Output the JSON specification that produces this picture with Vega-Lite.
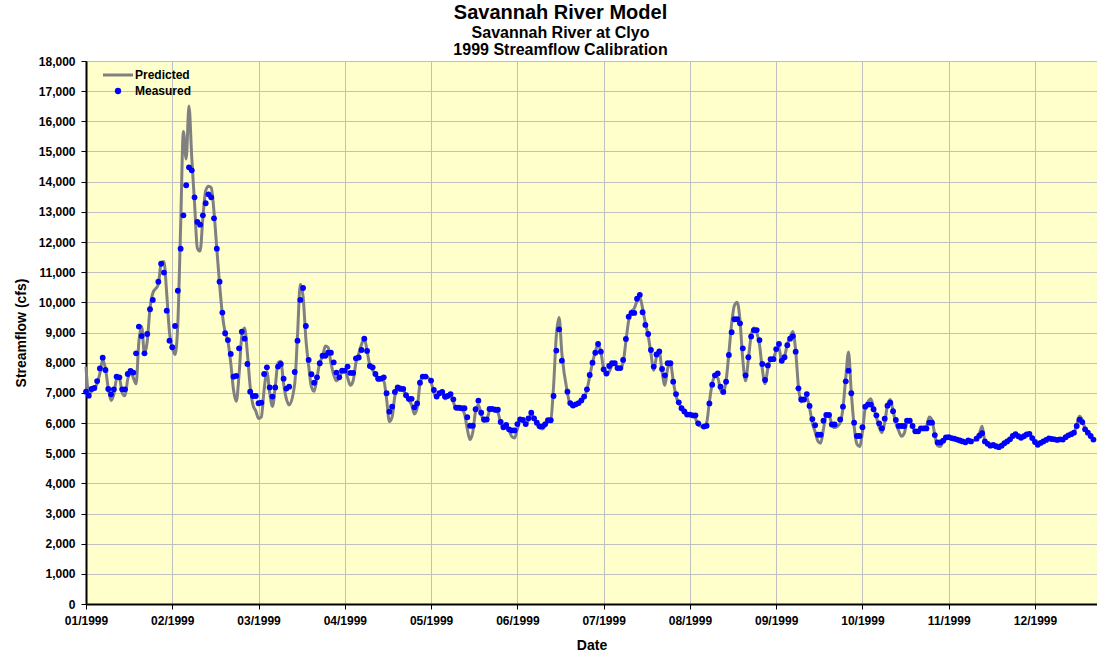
{
"$schema":"https://vega.github.io/schema/vega-lite/v6.json",
"width":1011,"height":543,
"autosize":{"type":"none"},
"padding":{"left":86,"top":61,"right":0,"bottom":53},
"background":"white",
"title":{"text":"Savannah River Model","subtitle":["Savannah River at Clyo","1999 Streamflow Calibration"],"anchor":"middle","frame":"group","dx":-31,"offset":-3,"font":"Liberation Sans","fontSize":20,"fontWeight":"bold","color":"#000000","subtitleFont":"Liberation Sans","subtitleFontSize":16,"subtitleFontWeight":"bold","subtitleColor":"#000000","subtitlePadding":2,"subtitleLineHeight":17},
"config":{"font":"Liberation Sans","view":{"fill":"#FFFFCC","stroke":"#000000","strokeWidth":1},
"axis":{"labelFont":"Liberation Sans","labelFontSize":12,"labelFontWeight":"bold","labelColor":"#000000","titleFont":"Liberation Sans","titleFontSize":14,"titleFontWeight":"bold","titleColor":"#000000","domainColor":"#000000","domainWidth":2,"tickColor":"#000000","tickWidth":1,"gridColor":"#C0C0C0","gridWidth":1,"grid":true}},
"data":{"values":[
{"d":"1999-01-01","p":7870,"m":7040},{"d":"1999-01-02","p":6950,"m":6905},{"d":"1999-01-03","p":7050,"m":7127},{"d":"1999-01-04","p":7150,"m":7160},{"d":"1999-01-05","p":7300,"m":7390},{"d":"1999-01-06","p":7650,"m":7810},{"d":"1999-01-07","p":8100,"m":8165},{"d":"1999-01-08","p":7800,"m":7757},{"d":"1999-01-09","p":7150,"m":7127},{"d":"1999-01-10","p":6750,"m":6950},{"d":"1999-01-11","p":6950,"m":7115},{"d":"1999-01-12","p":7450,"m":7535},{"d":"1999-01-13","p":7500,"m":7515},{"d":"1999-01-14","p":7000,"m":7115},{"d":"1999-01-15","p":6900,"m":7115},{"d":"1999-01-16","p":7450,"m":7625},{"d":"1999-01-17","p":7700,"m":7725},{"d":"1999-01-18","p":7500,"m":7670},{"d":"1999-01-19","p":7300,"m":8310},{"d":"1999-01-20","p":8700,"m":9195},{"d":"1999-01-21","p":9200,"m":8885},{"d":"1999-01-22","p":8300,"m":8310},{"d":"1999-01-23","p":8700,"m":8950},{"d":"1999-01-24","p":9800,"m":9770},{"d":"1999-01-25","p":10300,"m":10080},
{"d":"1999-01-27","p":10600,"m":10685},{"d":"1999-01-28","p":11300,"m":11280},{"d":"1999-01-29","p":11350,"m":10985},{"d":"1999-01-30","p":10300,"m":9725},{"d":"1999-01-31","p":9000,"m":8730},{"d":"1999-02-01","p":8500,"m":8510},{"d":"1999-02-02","p":8270,"m":9215},{"d":"1999-02-03","p":9300,"m":10385},{"d":"1999-02-04","p":12500,"m":11780},{"d":"1999-02-05","p":15660,"m":12885},{"d":"1999-02-06","p":14750,"m":13880},{"d":"1999-02-07","p":16510,"m":14475},{"d":"1999-02-08","p":14800,"m":14375},{"d":"1999-02-09","p":13300,"m":13480},{"d":"1999-02-10","p":11800,"m":12665},{"d":"1999-02-11","p":11700,"m":12575},{"d":"1999-02-12","p":12800,"m":12885},{"d":"1999-02-13","p":13700,"m":13285},{"d":"1999-02-14","p":13850,"m":13580},{"d":"1999-02-15","p":13800,"m":13480},{"d":"1999-02-16","p":13000,"m":12785},{"d":"1999-02-17","p":11780,"m":11780},{"d":"1999-02-18","p":10600,"m":10685},{"d":"1999-02-19","p":9600,"m":9660},{"d":"1999-02-20","p":9000,"m":8975},{"d":"1999-02-21","p":8700,"m":8750},{"d":"1999-02-22","p":8000,"m":8290},{"d":"1999-02-23","p":7100,"m":7535},{"d":"1999-02-24","p":6720,"m":7560},{"d":"1999-02-25","p":7600,"m":8475},{"d":"1999-02-26","p":8900,"m":9025},{"d":"1999-02-27","p":9150,"m":8795},{"d":"1999-02-28","p":8300,"m":7955},{"d":"1999-03-01","p":7200,"m":7040},{"d":"1999-03-02","p":6600,"m":6895},{"d":"1999-03-03","p":6400,"m":6895},{"d":"1999-03-04","p":6150,"m":6655},{"d":"1999-03-05","p":6200,"m":6675},{"d":"1999-03-06","p":7100,"m":7625},{"d":"1999-03-07","p":7700,"m":7845},{"d":"1999-03-08","p":7000,"m":7180},{"d":"1999-03-09","p":6550,"m":6875},{"d":"1999-03-10","p":7200,"m":7180},{"d":"1999-03-11","p":8000,"m":7870},{"d":"1999-03-12","p":8050,"m":7955},{"d":"1999-03-13","p":7300,"m":7470},{"d":"1999-03-14","p":6800,"m":7140},{"d":"1999-03-15","p":6600,"m":7205},
{"d":"1999-03-17","p":7300,"m":7690},{"d":"1999-03-18","p":8900,"m":8730},{"d":"1999-03-19","p":10600,"m":10080},{"d":"1999-03-20","p":10200,"m":10475},{"d":"1999-03-21","p":8800,"m":9215},{"d":"1999-03-22","p":7900,"m":8090},{"d":"1999-03-23","p":7200,"m":7615},{"d":"1999-03-24","p":7050,"m":7335},{"d":"1999-03-25","p":7500,"m":7515},{"d":"1999-03-26","p":8000,"m":7980},{"d":"1999-03-27","p":8200,"m":8230},{"d":"1999-03-28","p":8550,"m":8230},{"d":"1999-03-29","p":8500,"m":8330},{"d":"1999-03-30","p":8000,"m":8330},{"d":"1999-03-31","p":7600,"m":8010},{"d":"1999-04-01","p":7400,"m":7670},{"d":"1999-04-02","p":7500,"m":7515},{"d":"1999-04-03","p":7700,"m":7735},{"d":"1999-04-04","p":7750,"m":7735},{"d":"1999-04-05","p":7500,"m":7870},{"d":"1999-04-06","p":7250,"m":7660},{"d":"1999-04-07","p":7400,"m":7660},{"d":"1999-04-08","p":8000,"m":8145},{"d":"1999-04-09","p":8300,"m":8170},{"d":"1999-04-10","p":8600,"m":8420},{"d":"1999-04-11","p":8800,"m":8795},{"d":"1999-04-12","p":8400,"m":8390},{"d":"1999-04-13","p":7900,"m":7890},{"d":"1999-04-14","p":7750,"m":7845},{"d":"1999-04-15","p":7600,"m":7625},{"d":"1999-04-16","p":7400,"m":7470},{"d":"1999-04-17","p":7450,"m":7470},{"d":"1999-04-18","p":7400,"m":7515},{"d":"1999-04-19","p":6800,"m":6985},{"d":"1999-04-20","p":6050,"m":6375},{"d":"1999-04-21","p":6200,"m":6540},{"d":"1999-04-22","p":6900,"m":7030},{"d":"1999-04-23","p":7150,"m":7180},{"d":"1999-04-24","p":7200,"m":7130},{"d":"1999-04-25","p":7100,"m":7130},{"d":"1999-04-26","p":6900,"m":6920},{"d":"1999-04-27","p":6750,"m":6800},{"d":"1999-04-28","p":6600,"m":6800},{"d":"1999-04-29","p":6300,"m":6520},{"d":"1999-04-30","p":6500,"m":6650},{"d":"1999-05-01","p":7300,"m":7335},{"d":"1999-05-02","p":7550,"m":7540},{"d":"1999-05-03","p":7550,"m":7540},
{"d":"1999-05-05","p":7350,"m":7405},{"d":"1999-05-06","p":7000,"m":7095},{"d":"1999-05-07","p":6850,"m":6875},{"d":"1999-05-08","p":6950,"m":6985},{"d":"1999-05-09","p":7000,"m":7030},{"d":"1999-05-10","p":6800,"m":6875},{"d":"1999-05-11","p":6850,"m":6900},{"d":"1999-05-12","p":6900,"m":6960},{"d":"1999-05-13","p":6700,"m":6785},{"d":"1999-05-14","p":6450,"m":6510},{"d":"1999-05-15","p":6450,"m":6510},{"d":"1999-05-16","p":6450,"m":6490},{"d":"1999-05-17","p":6300,"m":6490},{"d":"1999-05-18","p":5800,"m":6190},{"d":"1999-05-19","p":5450,"m":5910},{"d":"1999-05-20","p":5700,"m":5910},{"d":"1999-05-21","p":6400,"m":6455},{"d":"1999-05-22","p":6600,"m":6740},{"d":"1999-05-23","p":6300,"m":6340},{"d":"1999-05-24","p":6050,"m":6115},{"d":"1999-05-25","p":6100,"m":6115},{"d":"1999-05-26","p":6400,"m":6465},{"d":"1999-05-27","p":6450,"m":6465},{"d":"1999-05-28","p":6400,"m":6440},{"d":"1999-05-29","p":6350,"m":6440},{"d":"1999-05-30","p":6000,"m":6035},{"d":"1999-05-31","p":5850,"m":5860},{"d":"1999-06-01","p":5850,"m":5935},{"d":"1999-06-02","p":5750,"m":5790},{"d":"1999-06-03","p":5550,"m":5755},{"d":"1999-06-04","p":5500,"m":5755},{"d":"1999-06-05","p":5800,"m":5965},{"d":"1999-06-06","p":6100,"m":6120},{"d":"1999-06-07","p":6100,"m":6100},{"d":"1999-06-08","p":5950,"m":5965},{"d":"1999-06-09","p":6100,"m":6155},{"d":"1999-06-10","p":6300,"m":6340},{"d":"1999-06-11","p":6150,"m":6155},{"d":"1999-06-12","p":5950,"m":6010},{"d":"1999-06-13","p":5850,"m":5890},{"d":"1999-06-14","p":5800,"m":5890},{"d":"1999-06-15","p":5900,"m":5965},{"d":"1999-06-16","p":6050,"m":6090},{"d":"1999-06-17","p":6100,"m":6090},{"d":"1999-06-18","p":7200,"m":6895},{"d":"1999-06-19","p":8900,"m":8400},{"d":"1999-06-20","p":9500,"m":9105},{"d":"1999-06-21","p":8300,"m":8065},
{"d":"1999-06-23","p":7000,"m":7040},{"d":"1999-06-24","p":6600,"m":6660},{"d":"1999-06-25","p":6550,"m":6580},{"d":"1999-06-26","p":6600,"m":6620},{"d":"1999-06-27","p":6650,"m":6660},{"d":"1999-06-28","p":6750,"m":6750},{"d":"1999-06-29","p":6850,"m":6875},{"d":"1999-06-30","p":7100,"m":7115},{"d":"1999-07-01","p":7550,"m":7590},{"d":"1999-07-02","p":8000,"m":8000},{"d":"1999-07-03","p":8350,"m":8330},{"d":"1999-07-04","p":8600,"m":8620},{"d":"1999-07-05","p":8350,"m":8365},{"d":"1999-07-06","p":7800,"m":7780},{"d":"1999-07-07","p":7600,"m":7640},{"d":"1999-07-08","p":7700,"m":7890},{"d":"1999-07-09","p":7900,"m":7980},{"d":"1999-07-10","p":7950,"m":7980},{"d":"1999-07-11","p":7850,"m":7820},{"d":"1999-07-12","p":7800,"m":7820},{"d":"1999-07-13","p":8000,"m":8090},{"d":"1999-07-14","p":8700,"m":8785},{"d":"1999-07-15","p":9400,"m":9525},{"d":"1999-07-16","p":9700,"m":9650},{"d":"1999-07-17","p":9800,"m":9650},{"d":"1999-07-18","p":10050,"m":10120},{"d":"1999-07-19","p":10180,"m":10250},{"d":"1999-07-20","p":9800,"m":9670},{"d":"1999-07-21","p":9300,"m":9250},{"d":"1999-07-22","p":8900,"m":8950},{"d":"1999-07-23","p":8300,"m":8420},{"d":"1999-07-24","p":7750,"m":7870},{"d":"1999-07-25","p":8200,"m":8270},{"d":"1999-07-26","p":8350,"m":8370},{"d":"1999-07-27","p":7700,"m":7790},{"d":"1999-07-28","p":7250,"m":7580},{"d":"1999-07-29","p":7800,"m":7980},{"d":"1999-07-30","p":8000,"m":7980},{"d":"1999-07-31","p":7400,"m":7370},{"d":"1999-08-01","p":6900,"m":6960},{"d":"1999-08-02","p":6650,"m":6685},{"d":"1999-08-03","p":6500,"m":6490},{"d":"1999-08-04","p":6380,"m":6380},{"d":"1999-08-05","p":6300,"m":6280},{"d":"1999-08-06","p":6250,"m":6280},{"d":"1999-08-07","p":6220,"m":6255},{"d":"1999-08-08","p":6150,"m":6255},{"d":"1999-08-09","p":5920,"m":5990},
{"d":"1999-08-11","p":5880,"m":5880},{"d":"1999-08-12","p":6000,"m":5910},{"d":"1999-08-13","p":6700,"m":6650},{"d":"1999-08-14","p":7300,"m":7270},{"d":"1999-08-15","p":7550,"m":7580},{"d":"1999-08-16","p":7500,"m":7640},{"d":"1999-08-17","p":7100,"m":7205},{"d":"1999-08-18","p":7000,"m":7030},{"d":"1999-08-19","p":7400,"m":7370},{"d":"1999-08-20","p":8300,"m":8255},{"d":"1999-08-21","p":9300,"m":9010},{"d":"1999-08-22","p":9900,"m":9440},{"d":"1999-08-23","p":10000,"m":9440},{"d":"1999-08-24","p":9400,"m":9305},{"d":"1999-08-25","p":8100,"m":8475},{"d":"1999-08-26","p":7400,"m":7580},{"d":"1999-08-27","p":8100,"m":8180},{"d":"1999-08-28","p":8900,"m":8870},{"d":"1999-08-29","p":9150,"m":9080},{"d":"1999-08-30","p":9000,"m":9080},{"d":"1999-08-31","p":8600,"m":8750},{"d":"1999-09-01","p":7800,"m":7955},{"d":"1999-09-02","p":7300,"m":7425},{"d":"1999-09-03","p":7800,"m":7910},{"d":"1999-09-04","p":8100,"m":8115},{"d":"1999-09-05","p":8150,"m":8115},{"d":"1999-09-06","p":8400,"m":8450},{"d":"1999-09-07","p":8500,"m":8620},{"d":"1999-09-08","p":8000,"m":8065},{"d":"1999-09-09","p":8200,"m":8180},{"d":"1999-09-10","p":8600,"m":8580},{"d":"1999-09-11","p":8850,"m":8795},{"d":"1999-09-12","p":9030,"m":8880},{"d":"1999-09-13","p":8400,"m":8365},{"d":"1999-09-14","p":7200,"m":7150},{"d":"1999-09-15","p":6700,"m":6780},{"d":"1999-09-16","p":6750,"m":6780},{"d":"1999-09-17","p":6850,"m":6960},{"d":"1999-09-18","p":6500,"m":6565},{"d":"1999-09-19","p":6000,"m":6130},{"d":"1999-09-20","p":5700,"m":5925},{"d":"1999-09-21","p":5400,"m":5610},{"d":"1999-09-22","p":5330,"m":5610},{"d":"1999-09-23","p":5800,"m":6075},{"d":"1999-09-24","p":6250,"m":6265},{"d":"1999-09-25","p":6250,"m":6265},{"d":"1999-09-26","p":5950,"m":5950},{"d":"1999-09-27","p":5850,"m":5950},
{"d":"1999-09-29","p":6000,"m":6120},{"d":"1999-09-30","p":6500,"m":6540},{"d":"1999-10-01","p":7500,"m":7380},{"d":"1999-10-02","p":8350,"m":7735},{"d":"1999-10-03","p":7000,"m":6985},{"d":"1999-10-04","p":5900,"m":6010},{"d":"1999-10-05","p":5300,"m":5570},{"d":"1999-10-06","p":5220,"m":5570},{"d":"1999-10-07","p":5700,"m":5860},{"d":"1999-10-08","p":6500,"m":6540},{"d":"1999-10-09","p":6700,"m":6610},{"d":"1999-10-10","p":6800,"m":6610},{"d":"1999-10-11","p":6500,"m":6455},{"d":"1999-10-12","p":6200,"m":6255},{"d":"1999-10-13","p":5850,"m":5990},{"d":"1999-10-14","p":5680,"m":5825},{"d":"1999-10-15","p":6000,"m":6145},{"d":"1999-10-16","p":6600,"m":6575},{"d":"1999-10-17","p":6780,"m":6675},{"d":"1999-10-18","p":6400,"m":6390},{"d":"1999-10-19","p":6000,"m":6100},{"d":"1999-10-20","p":5750,"m":5900},{"d":"1999-10-21","p":5560,"m":5900},{"d":"1999-10-22","p":5650,"m":5900},{"d":"1999-10-23","p":6000,"m":6075},{"d":"1999-10-24","p":6050,"m":6075},{"d":"1999-10-25","p":5900,"m":5900},{"d":"1999-10-26","p":5700,"m":5725},{"d":"1999-10-27","p":5700,"m":5725},{"d":"1999-10-28","p":5800,"m":5820},{"d":"1999-10-29","p":5850,"m":5820},{"d":"1999-10-30","p":5900,"m":5820},{"d":"1999-10-31","p":6200,"m":6010},{"d":"1999-11-01","p":6100,"m":6010},{"d":"1999-11-02","p":5600,"m":5600},{"d":"1999-11-03","p":5250,"m":5355},{"d":"1999-11-04","p":5220,"m":5355},{"d":"1999-11-05","p":5400,"m":5415},{"d":"1999-11-06","p":5500,"m":5520},{"d":"1999-11-07","p":5530,"m":5530},{"d":"1999-11-08","p":5500,"m":5500},{"d":"1999-11-09","p":5480,"m":5480},{"d":"1999-11-10","p":5450,"m":5450},{"d":"1999-11-11","p":5420,"m":5420},{"d":"1999-11-12","p":5390,"m":5390},{"d":"1999-11-13","p":5360,"m":5360},{"d":"1999-11-14","p":5420,"m":5420},{"d":"1999-11-15","p":5390,"m":5390},
{"d":"1999-11-17","p":5480,"m":5480},{"d":"1999-11-18","p":5650,"m":5580},{"d":"1999-11-19","p":5890,"m":5660},{"d":"1999-11-20","p":5390,"m":5390},{"d":"1999-11-21","p":5310,"m":5310},{"d":"1999-11-22","p":5250,"m":5250},{"d":"1999-11-23","p":5270,"m":5270},{"d":"1999-11-24","p":5230,"m":5230},{"d":"1999-11-25","p":5200,"m":5200},{"d":"1999-11-26","p":5250,"m":5250},{"d":"1999-11-27","p":5330,"m":5330},{"d":"1999-11-28","p":5390,"m":5390},{"d":"1999-11-29","p":5460,"m":5460},{"d":"1999-11-30","p":5570,"m":5570},{"d":"1999-12-01","p":5630,"m":5630},{"d":"1999-12-02","p":5560,"m":5560},{"d":"1999-12-03","p":5510,"m":5510},{"d":"1999-12-04","p":5560,"m":5560},{"d":"1999-12-05","p":5620,"m":5620},{"d":"1999-12-06","p":5640,"m":5640},{"d":"1999-12-07","p":5500,"m":5500},{"d":"1999-12-08","p":5370,"m":5370},{"d":"1999-12-09","p":5280,"m":5280},{"d":"1999-12-10","p":5340,"m":5340},{"d":"1999-12-11","p":5390,"m":5390},{"d":"1999-12-12","p":5440,"m":5440},{"d":"1999-12-13","p":5490,"m":5490},{"d":"1999-12-14","p":5470,"m":5470},{"d":"1999-12-15","p":5460,"m":5460},{"d":"1999-12-16","p":5440,"m":5440},{"d":"1999-12-17","p":5460,"m":5460},{"d":"1999-12-18","p":5450,"m":5450},{"d":"1999-12-19","p":5530,"m":5530},{"d":"1999-12-20","p":5590,"m":5590},{"d":"1999-12-21","p":5630,"m":5630},{"d":"1999-12-22","p":5680,"m":5680},{"d":"1999-12-23","p":5950,"m":5900},{"d":"1999-12-24","p":6220,"m":6110},{"d":"1999-12-25","p":6100,"m":6030},{"d":"1999-12-26","p":5800,"m":5790},{"d":"1999-12-27","p":5680,"m":5680},{"d":"1999-12-28","p":5570,"m":5570},{"d":"1999-12-29","p":5450,"m":5450}
]},
"encoding":{"x":{"field":"d","type":"temporal","title":"Date",
"scale":{"type":"utc","domain":[{"year":1999,"month":1,"date":1,"utc":true},{"year":1999,"month":12,"date":30,"hours":6,"minutes":43,"utc":true}]},
"axis":{"values":[{"year":1999,"month":1,"date":1,"utc":true},{"year":1999,"month":2,"date":1,"utc":true},{"year":1999,"month":3,"date":4,"utc":true},{"year":1999,"month":4,"date":4,"utc":true},{"year":1999,"month":5,"date":5,"utc":true},{"year":1999,"month":6,"date":5,"utc":true},{"year":1999,"month":7,"date":6,"utc":true},{"year":1999,"month":8,"date":6,"utc":true},{"year":1999,"month":9,"date":6,"utc":true},{"year":1999,"month":10,"date":7,"utc":true},{"year":1999,"month":11,"date":7,"utc":true},{"year":1999,"month":12,"date":8,"utc":true}],"labelExpr":"utcFormat(datum.value, '%m/%Y')","tickSize":5,"labelPadding":6,"titlePadding":12,"labelFlush":false,"labelOverlap":false}}},
"layer":[
{"mark":{"type":"line","interpolate":"monotone","strokeWidth":3},
"encoding":{"y":{"field":"p","type":"quantitative","title":"Streamflow (cfs)","scale":{"domain":[0,18000],"nice":false},"axis":{"values":[0,1000,2000,3000,4000,5000,6000,7000,8000,9000,10000,11000,12000,13000,14000,15000,16000,17000,18000],"format":",d","tickSize":5,"labelPadding":6,"titlePadding":10,"labelOverlap":false}},
"color":{"datum":"Predicted","type":"nominal","scale":{"domain":["Predicted","Measured"],"range":["#808080","#0000FF"]},
"legend":{"orient":"none","legendX":26,"legendY":8,"title":null,"direction":"vertical","padding":0,"labelFont":"Liberation Sans","labelFontSize":12,"labelFontWeight":"bold","labelColor":"#000000","symbolSize":200,"labelOffset":11,"rowPadding":4,
"encode":{"symbols":{"update":{"shape":{"signal":"datum.value === 'Predicted' ? 'stroke' : 'circle'"},"size":{"signal":"datum.value === 'Predicted' ? 900 : 40"},"fill":{"signal":"datum.value === 'Predicted' ? 'transparent' : '#0000FF'"},"stroke":{"signal":"datum.value === 'Predicted' ? '#808080' : 'transparent'"},"strokeWidth":{"signal":"datum.value === 'Predicted' ? 3 : 0"},"opacity":{"value":1}}}}}}}},
{"mark":{"type":"point","filled":true,"size":34,"opacity":1},
"encoding":{"y":{"field":"m","type":"quantitative","title":"Streamflow (cfs)","scale":{"domain":[0,18000],"nice":false},"axis":{"values":[0,1000,2000,3000,4000,5000,6000,7000,8000,9000,10000,11000,12000,13000,14000,15000,16000,17000,18000],"format":",d","tickSize":5,"labelPadding":6,"titlePadding":10,"labelOverlap":false}},
"color":{"datum":"Measured","type":"nominal"}}}
]
}
